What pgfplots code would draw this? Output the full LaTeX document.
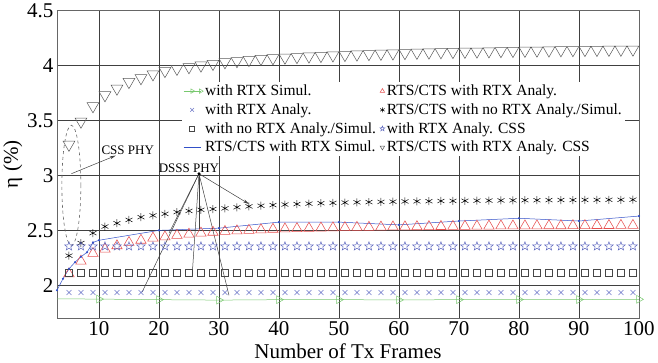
\documentclass[border=0pt]{standalone}
\usepackage{fontspec}
\setmainfont{Liberation Serif}
\usepackage{pgfplots}
\usepackage{pgfplotstable}
\pgfplotsset{compat=1.18}
\usetikzlibrary{arrows.meta}

\definecolor{cgreen}{RGB}{120,200,110}
\definecolor{ccross}{RGB}{110,120,200}
\definecolor{csq}{RGB}{70,70,70}
\definecolor{cblue}{RGB}{50,80,200}
\definecolor{cred}{RGB}{230,80,80}
\definecolor{cstar}{RGB}{90,100,190}
\definecolor{cinv}{RGB}{90,90,90}

\pgfdeclareplotmark{ostar}{%
  \pgfpathmoveto{\pgfpointpolar{90}{\pgfplotmarksize}}%
  \pgfpathlineto{\pgfpointpolar{126}{0.42\pgfplotmarksize}}%
  \pgfpathlineto{\pgfpointpolar{162}{\pgfplotmarksize}}%
  \pgfpathlineto{\pgfpointpolar{198}{0.42\pgfplotmarksize}}%
  \pgfpathlineto{\pgfpointpolar{234}{\pgfplotmarksize}}%
  \pgfpathlineto{\pgfpointpolar{270}{0.42\pgfplotmarksize}}%
  \pgfpathlineto{\pgfpointpolar{306}{\pgfplotmarksize}}%
  \pgfpathlineto{\pgfpointpolar{342}{0.42\pgfplotmarksize}}%
  \pgfpathlineto{\pgfpointpolar{18}{\pgfplotmarksize}}%
  \pgfpathlineto{\pgfpointpolar{54}{0.42\pgfplotmarksize}}%
  \pgfpathclose
  \pgfusepathqstroke
}

\pgfplotstableread{
x  tri    ast    inv    cross  sq     star
5  2.105  2.270  3.280  1.935  2.115  2.355
7  2.220  2.385  3.490  1.935  2.115  2.355
9  2.290  2.475  3.630  1.935  2.115  2.355
11 2.330  2.535  3.730  1.935  2.115  2.355
13 2.360  2.565  3.790  1.935  2.115  2.355
15 2.390  2.595  3.850  1.935  2.115  2.355
17 2.410  2.620  3.885  1.935  2.115  2.355
19 2.430  2.636  3.920  1.935  2.115  2.355
21 2.440  2.650  3.950  1.935  2.115  2.355
23 2.455  2.666  3.970  1.935  2.115  2.355
25 2.465  2.677  3.985  1.935  2.115  2.355
27 2.475  2.687  4.000  1.935  2.115  2.355
29 2.483  2.694  4.015  1.935  2.115  2.355
31 2.490  2.700  4.030  1.935  2.115  2.355
33 2.495  2.710  4.040  1.935  2.115  2.355
35 2.500  2.718  4.050  1.935  2.115  2.355
37 2.505  2.724  4.060  1.935  2.115  2.355
39 2.510  2.730  4.066  1.935  2.115  2.355
41 2.513  2.735  4.072  1.935  2.115  2.355
43 2.516  2.739  4.077  1.935  2.115  2.355
45 2.519  2.743  4.082  1.935  2.115  2.355
47 2.521  2.747  4.087  1.935  2.115  2.355
49 2.523  2.750  4.092  1.935  2.115  2.355
51 2.525  2.753  4.096  1.935  2.115  2.355
53 2.527  2.755  4.100  1.935  2.115  2.355
55 2.528  2.757  4.104  1.935  2.115  2.355
57 2.530  2.759  4.107  1.935  2.115  2.355
59 2.531  2.761  4.110  1.935  2.115  2.355
61 2.532  2.763  4.113  1.935  2.115  2.355
63 2.533  2.764  4.116  1.935  2.115  2.355
65 2.534  2.765  4.118  1.935  2.115  2.355
67 2.535  2.767  4.121  1.935  2.115  2.355
69 2.536  2.768  4.123  1.935  2.115  2.355
71 2.537  2.769  4.125  1.935  2.115  2.355
73 2.538  2.770  4.127  1.935  2.115  2.355
75 2.539  2.771  4.129  1.935  2.115  2.355
77 2.540  2.772  4.131  1.935  2.115  2.355
79 2.540  2.773  4.133  1.935  2.115  2.355
81 2.541  2.774  4.134  1.935  2.115  2.355
83 2.541  2.774  4.136  1.935  2.115  2.355
85 2.542  2.775  4.137  1.935  2.115  2.355
87 2.542  2.776  4.139  1.935  2.115  2.355
89 2.543  2.776  4.140  1.935  2.115  2.355
91 2.543  2.777  4.141  1.935  2.115  2.355
93 2.544  2.777  4.142  1.935  2.115  2.355
95 2.544  2.778  4.143  1.935  2.115  2.355
97 2.545  2.778  4.144  1.935  2.115  2.355
99 2.545  2.779  4.145  1.935  2.115  2.355
}\analy

\begin{document}
\begin{tikzpicture}
\begin{axis}[
  width=582bp, height=308bp, scale only axis,
  xmin=3, xmax=100, ymin=1.7, ymax=4.5,
  xtick={10,20,...,100},
  ytick={2,2.5,3,3.5,4,4.5},
  yticklabels={2,2.5,3,3.5,4,4.5},
  grid=major,
  grid style={draw=black!75, line width=0.5bp},
  axis line style={draw=black!60},
  major tick length=0pt,
  clip marker paths=false,
  /pgf/number format/assume math mode=true,
  tick label style={font=\fontsize{21bp}{24bp}\selectfont},
  label style={font=\fontsize{21bp}{24bp}\selectfont},
  xlabel={Number of Tx Frames},
  ylabel={η (\%)},
  xlabel style={yshift=-1bp},
  ylabel style={yshift=-2bp},
  legend columns=2,
  legend cell align=left,
  legend style={at={(0.215,0.768)}, anchor=north west, draw=none, fill=white,
    font=\fontsize{15.5bp}{18bp}\selectfont, inner sep=1bp, row sep=2.5bp,
    /tikz/every even column/.append style={column sep=2bp}},
]
% row 1
\addplot[color=cgreen, line width=0.5bp, mark=triangle, mark size=4.5bp,
  mark options={rotate=-90, solid, fill=none}, mark indices={2,3,4,5,6,7,8,9,10,11},
  legend image post style={mark size=2.6bp}]
  coordinates {(3,1.878) (10,1.875) (20,1.870) (30,1.866) (40,1.870) (50,1.870)
               (60,1.868) (70,1.870) (80,1.871) (90,1.871) (100,1.873)};
\addlegendentry{with RTX Simul.}
\addplot[only marks, color=cred, mark=triangle, mark size=6bp, mark options={fill=none, line width=0.55bp},
  legend image post style={mark size=2.6bp}]
  table[x=x, y=tri] {\analy};
\addlegendentry{RTS/CTS with RTX Analy.}
% row 2
\addplot[only marks, color=ccross, mark=x, mark size=3.5bp, mark options={line width=0.5bp},
  legend image post style={mark size=2.6bp}]
  table[x=x, y=cross] {\analy};
\addlegendentry{with RTX Analy.}
\addplot[only marks, color=black, mark=asterisk, mark size=4bp, mark options={line width=0.5bp},
  legend image post style={mark size=2.6bp}]
  table[x=x, y=ast] {\analy};
\addlegendentry{RTS/CTS with no RTX Analy./Simul.}
% row 3
\addplot[only marks, color=csq, mark=square, mark size=3.5bp, mark options={fill=none, line width=0.5bp},
  legend image post style={mark size=2.6bp}]
  table[x=x, y=sq] {\analy};
\addlegendentry{with no RTX Analy./Simul.}
\addplot[only marks, color=cstar, mark=ostar, mark size=4.5bp, mark options={line width=0.5bp},
  legend image post style={mark size=2.6bp}]
  table[x=x, y=star] {\analy};
\addlegendentry{with RTX Analy. CSS}
% row 4
\addplot[color=cblue, line width=0.5bp, mark=*, mark size=0.8bp,
  legend image post style={mark=none, draw=cblue, line width=0.7bp}]
  coordinates {(3,1.955) (4,2.06) (5,2.15) (6,2.21) (7,2.26) (8,2.30) (9,2.39) (10,2.41)
               (20,2.50) (30,2.52) (40,2.575) (50,2.575) (60,2.55) (70,2.585) (80,2.61)
               (90,2.585) (100,2.63)};
\addlegendentry{RTS/CTS with RTX Simul.}
\addplot[only marks, color=cinv, mark=triangle, mark size=6.8bp, mark options={rotate=180, fill=none, line width=0.5bp},
  legend image post style={mark size=2.6bp}]
  table[x=x, y=inv] {\analy};
\addlegendentry{RTS/CTS with RTX Analy. CSS}

% annotations
\draw[dashed, black!60, line width=0.6bp] (axis cs:5.4,2.91) ellipse [x radius=9.5bp, y radius=60bp];
\draw[-{Stealth[length=6bp,width=3bp]}, black!75, line width=0.5bp] (axis cs:5.4,3.015) -- (axis cs:12.8,3.18);
\node[font=\fontsize{13bp}{15bp}\selectfont, anchor=base] at (axis cs:14.8,3.19) {CSS PHY};

\draw[black!75, line width=0.5bp] (axis cs:26.67,3.015) -- (axis cs:17.2,1.94);
\draw[black!75, line width=0.5bp] (axis cs:26.67,3.015) -- (axis cs:21.67,2.475);
\draw[black!75, line width=0.5bp] (axis cs:26.67,3.015) -- (axis cs:25.55,2.105);
\draw[black!75, line width=0.5bp] (axis cs:26.67,3.015) -- (axis cs:26.67,2.515);
\draw[black!75, line width=0.5bp] (axis cs:26.67,3.015) -- (axis cs:31.67,1.91);
\draw[-{Stealth[length=6bp,width=3bp]}, black!75, line width=0.5bp] (axis cs:26.67,3.015) -- (axis cs:35,2.74);
\fill[black] (axis cs:26.67,3.015) circle (1.6bp);
\node[font=\fontsize{13bp}{15bp}\selectfont, anchor=base] at (axis cs:25,3.03) {DSSS PHY};
\end{axis}
\end{tikzpicture}
\end{document}
